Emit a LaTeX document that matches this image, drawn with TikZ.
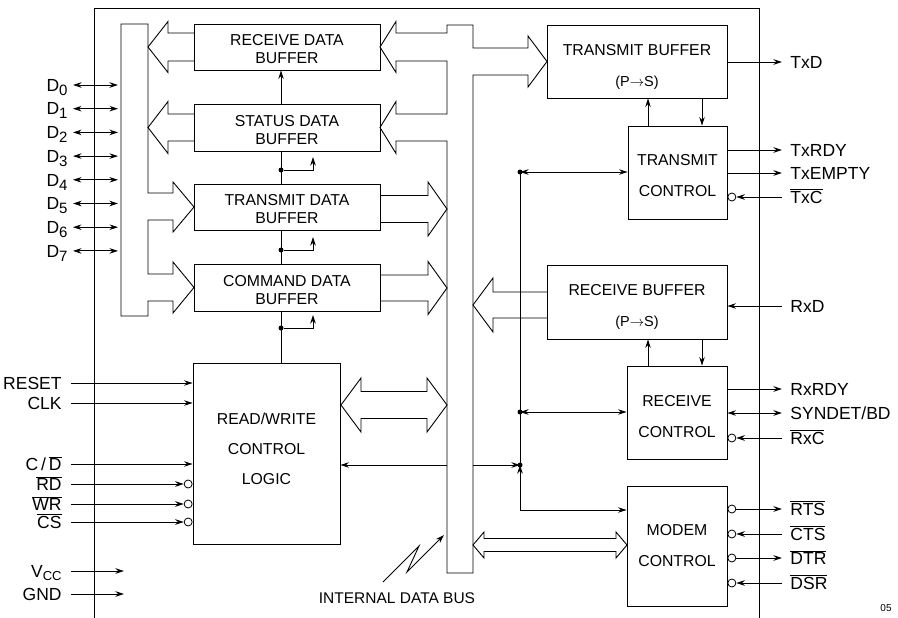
\documentclass[tikz,border=0pt]{standalone}
\usepackage{fontspec}
\setmainfont{Liberation Sans}
\usetikzlibrary{arrows.meta,calc}
\newcommand\ovl[1]{$\overline{\hbox{#1}}$}
% fat arrow: #1 base x, #2 tip x, #3 y, #4 head length (signed), #5 shaft half, #6 barb half
\newcommand\fatarr[6]{\draw (#1,{#3-#5}) -- ({#2-(#4)},{#3-#5}) -- ({#2-(#4)},{#3-#6}) -- (#2,#3) -- ({#2-(#4)},{#3+#6}) -- ({#2-(#4)},{#3+#5}) -- (#1,{#3+#5});}
% double fat arrow: #1 left tip, #2 right tip, #3 y, #4 head length, #5 shaft half, #6 barb half
\newcommand\dblarr[6]{\draw (#1,#3) -- ({#1+#4},{#3-#6}) -- ({#1+#4},{#3-#5}) -- ({#2-#4},{#3-#5}) -- ({#2-#4},{#3-#6}) -- (#2,#3) -- ({#2-#4},{#3+#6}) -- ({#2-#4},{#3+#5}) -- ({#1+#4},{#3+#5}) -- ({#1+#4},{#3+#6}) -- cycle;}
\begin{document}
\begin{tikzpicture}[x=1pt,y=-1pt,line width=0.9pt,
 box/.style={draw,rectangle,inner sep=0pt},
 btxt/.style={align=center,inner sep=0pt,font=\fontsize{15.8}{18}\selectfont},
 lbl/.style={inner sep=0pt,font=\fontsize{17.5}{20}\selectfont,text height=12.5pt,text depth=0pt},
 sig/.style={-{Stealth[length=8.5pt,width=5.5pt]}},
 sigb/.style={{Stealth[length=8.5pt,width=5.5pt]}-{Stealth[length=8.5pt,width=5.5pt]}},
 bubble/.style={draw,circle,fill=white,inner sep=0pt,minimum size=8pt,line width=0.8pt},
 dot/.style={circle,fill,inner sep=0pt,minimum size=5pt}]
\useasboundingbox (0,0) rectangle (898,618);
\fill[white] (0,0) rectangle (898,618);

% chip outline
\draw (94,618) -- (94,8) -- (759,8) -- (759,618);

% boxes
\node[box,minimum width=186pt,minimum height=46pt] (rdb) at (287,47) {};
\node[box,minimum width=186pt,minimum height=47pt] (sdb) at (287,127.5) {};
\node[box,minimum width=186pt,minimum height=46pt] (tdb) at (287,207) {};
\node[box,minimum width=186pt,minimum height=47pt] (cdb) at (287,287.5) {};
\node[box,minimum width=147pt,minimum height=181pt] (rw) at (266.5,453.5) {};
\node[box,minimum width=180pt,minimum height=73pt] (txb) at (637,61.5) {};
\node[box,minimum width=99pt,minimum height=93pt] (txc) at (677.5,172.5) {};
\node[box,minimum width=180pt,minimum height=74pt] (rxb) at (637,302) {};
\node[box,minimum width=100pt,minimum height=93pt] (rxc) at (677,412.5) {};
\node[box,minimum width=100pt,minimum height=120pt] (mdm) at (677,546) {};

\node[btxt] (rdbT) at ($(rdb)+(0,2.5)$) {RECEIVE DATA\\BUFFER};
\node[btxt] (sdbT) at ($(sdb)+(0,2.5)$) {STATUS DATA\\BUFFER};
\node[btxt] (tdbT) at ($(tdb)+(0,2.5)$) {TRANSMIT DATA\\BUFFER};
\node[btxt] (cdbT) at ($(cdb)+(0,2.5)$) {COMMAND DATA\\BUFFER};
\node[btxt] (rwT) at ($(rw)+(0,-4.5)$) {READ/WRITE\\[12pt]CONTROL\\[12pt]LOGIC};
\node[btxt] (txbT) at ($(txb)+(0,5)$) {TRANSMIT BUFFER\\[13pt]{\fontsize{14.5}{16}\selectfont (P$\rightarrow$S)}};
\node[btxt] (rxbT) at ($(rxb)+(0,5)$) {RECEIVE BUFFER\\[13pt]{\fontsize{14.5}{16}\selectfont (P$\rightarrow$S)}};
\node[btxt] (txcT) at ($(txc)+(0,3)$) {TRANSMIT\\[12.5pt]CONTROL};
\node[btxt] (rxcT) at ($(rxc)+(0,4)$) {RECEIVE\\[12.5pt]CONTROL};
\node[btxt] (mdmT) at ($(mdm)+(0,-0.5)$) {MODEM\\[12.5pt]CONTROL};

% data bus buffer (left bar)
\draw (121,24) -- (148,24) -- (148,193) -- (173,193) -- (173,182) -- (194,207) -- (173,232) -- (173,220)
  -- (148,220) -- (148,274) -- (173,274) -- (173,262) -- (194,287.5) -- (173,313) -- (173,301)
  -- (148,301) -- (148,316) -- (121,316) -- cycle;
\fatarr{194}{148}{47}{-20}{14}{25.5}
\fatarr{194}{148}{127.5}{-20}{13.5}{26}

% internal data bus
\draw (473,573) -- (447,573) -- (447,141) -- (396,141) -- (396,153.5) -- (380,127.5) -- (396,101.5) -- (396,114)
  -- (447,114) -- (447,61) -- (396,61) -- (396,72.5) -- (380,47) -- (396,21.5) -- (396,33) -- (447,33)
  -- (447,25) -- (473,25) -- (473,48) -- (528,48) -- (528,36) -- (547,61.5) -- (528,87) -- (528,75)
  -- (473,75) -- cycle;
\fatarr{380}{447}{209}{19}{13.5}{27}
\fatarr{380}{447}{288}{19}{13}{26.5}
\fatarr{547}{473}{305}{-20}{13}{27}
\dblarr{341}{447}{405}{20}{13.5}{27}
\dblarr{473}{627}{545}{11}{6.5}{13}

\coordinate (busL) at (447,0);
\coordinate (busR) at (473,0);
\coordinate (vx) at (281,0);
\coordinate (xa) at (648,0);
\coordinate (xb) at (702,0);
\coordinate (yM) at (0,510);

% buffer chain
\draw[sig] (sdb.north -| vx) -- (rdb.south -| vx);
\draw (sdb.south -| vx) -- (tdb.north -| vx);
\draw (tdb.south -| vx) -- (cdb.north -| vx);
\draw (cdb.south -| vx) -- (rw.north -| vx);
\node[dot] (j1) at (281,170) {};
\node[dot] (j2) at (281,250) {};
\node[dot] (j3) at (281,328) {};
\draw[sig] (j1) -| ++(32,-13);
\draw[sig] (j2) -| ++(32,-13);
\draw[sig] (j3) -| ++(32,-13);

% right column internal
\draw[sig] (txc.north -| xa) -- (txb.south -| xa);
\draw[sig] (txb.south -| xb) -- (txc.north -| xb);
\draw[sig] (rxc.north -| xa) -- (rxb.south -| xa);
\draw[sig] (rxb.south -| xb) -- (rxc.north -| xb);

\coordinate (dt) at (520,172);
\coordinate (dr) at (520,412);
\coordinate (dm) at (520,465);
\draw (dt) -- (dm);
\draw[sigb] (dt) -- (dt -| txc.west);
\draw[sigb] (dr) -- (dr -| rxc.west);
\draw[sig] (dm -| busR) -- (dm);
\draw[sig] (dm -| busL) -- (dm -| rw.east);
\draw[sigb] (dm) |- (mdm.west |- yM);
\node[dot] (jt) at (dt) {};
\node[dot] (jr) at (dr) {};
\node[dot] (jm) at (dm) {};

% internal data bus label
\node[inner sep=0pt,font=\fontsize{15.5}{18}\selectfont] (ibus) at (397,598) {INTERNAL DATA BUS};
\draw[sig] (383,582) -- (419,546) -- (407,572) -- (444,535);

% D0..D7
\coordinate (barL) at (118,0);
\foreach \i in {0,...,7}{
  \node[lbl,anchor=east] (d\i) at (68,{85+23.7*\i}) {D{\fontsize{15}{15}\selectfont\raisebox{-4pt}{\i}}};
  \draw[sigb] ([xshift=5pt]d\i.east) -- (d\i -| barL);
}

% left control inputs
\node[lbl,anchor=east] (reset) at (62,383) {RESET};
\node[lbl,anchor=east] (clk) at (62,403) {CLK};
\node[lbl,anchor=east] (cd) at (62,464) {C\,/\,\ovl{D}};
\node[lbl,anchor=east] (rd) at (62,484) {\ovl{RD}};
\node[lbl,anchor=east] (wr) at (62,504) {\ovl{WR}};
\node[lbl,anchor=east] (cs) at (62,522) {\ovl{CS}};
\node[lbl,anchor=east] (vcc) at (62,571) {V{\fontsize{13}{13}\selectfont\raisebox{-3pt}{CC}}};
\node[lbl,anchor=east] (gnd) at (62,594) {GND};
\draw[sig] ([xshift=9pt]reset.east) -- (reset -| rw.west);
\draw[sig] ([xshift=9pt]clk.east) -- (clk -| rw.west);
\draw[sig] ([xshift=9pt]cd.east) -- (cd -| rw.west);
\node[bubble,anchor=east] (brd) at (rd -| rw.west) {};
\node[bubble,anchor=east] (bwr) at (wr -| rw.west) {};
\node[bubble,anchor=east] (bcs) at (cs -| rw.west) {};
\draw[sig] ([xshift=9pt]rd.east) -- (brd.west);
\draw[sig] ([xshift=9pt]wr.east) -- (bwr.west);
\draw[sig] ([xshift=9pt]cs.east) -- (bcs.west);
\coordinate (pw) at (124,0);
\draw[sig] ([xshift=9pt]vcc.east) -- (vcc -| pw);
\draw[sig] ([xshift=9pt]gnd.east) -- (gnd -| pw);

% right side signals
\node[lbl,anchor=west] (txd) at (790,62) {TxD};
\node[lbl,anchor=west] (txrdy) at (790,150) {TxRDY};
\node[lbl,anchor=west] (txe) at (790,173) {TxEMPTY};
\node[lbl,anchor=west] (txcl) at (790,197) {\ovl{TxC}};
\node[lbl,anchor=west] (rxd) at (790,306) {RxD};
\node[lbl,anchor=west] (rxrdy) at (790,389) {RxRDY};
\node[lbl,anchor=west] (syn) at (790,413) {SYNDET/BD};
\node[lbl,anchor=west] (rxcl) at (790,438) {\ovl{RxC}};
\node[lbl,anchor=west] (rts) at (790,509) {\ovl{RTS}};
\node[lbl,anchor=west] (cts) at (790,534) {\ovl{CTS}};
\node[lbl,anchor=west] (dtr) at (790,558) {\ovl{DTR}};
\node[lbl,anchor=west] (dsr) at (790,583) {\ovl{DSR}};

\draw[sig] (txb.east |- txd) -- ([xshift=-8pt]txd.west);
\draw[sig] (txc.east |- txrdy) -- ([xshift=-8pt]txrdy.west);
\draw[sig] (txc.east |- txe) -- ([xshift=-8pt]txe.west);
\node[bubble,anchor=west] (btxc) at (txc.east |- txcl) {};
\draw[sig] ([xshift=-8pt]txcl.west) -- (btxc.east);
\draw[sig] ([xshift=-8pt]rxd.west) -- (rxb.east |- rxd);
\draw[sig] (rxc.east |- rxrdy) -- ([xshift=-8pt]rxrdy.west);
\draw[sigb] (rxc.east |- syn) -- ([xshift=-8pt]syn.west);
\node[bubble,anchor=west] (brxc) at (rxc.east |- rxcl) {};
\draw[sig] ([xshift=-8pt]rxcl.west) -- (brxc.east);
\node[bubble,anchor=west] (brts) at (mdm.east |- rts) {};
\node[bubble,anchor=west] (bcts) at (mdm.east |- cts) {};
\node[bubble,anchor=west] (bdtr) at (mdm.east |- dtr) {};
\node[bubble,anchor=west] (bdsr) at (mdm.east |- dsr) {};
\draw[sig] (brts.east) -- ([xshift=-8pt]rts.west);
\draw[sig] ([xshift=-8pt]cts.west) -- (bcts.east);
\draw[sig] (bdtr.east) -- ([xshift=-8pt]dtr.west);
\draw[sig] ([xshift=-8pt]dsr.west) -- (bdsr.east);

\node[inner sep=0pt,font=\fontsize{10}{12}\selectfont] (fig) at (886,608) {05};
\end{tikzpicture}
\end{document}
